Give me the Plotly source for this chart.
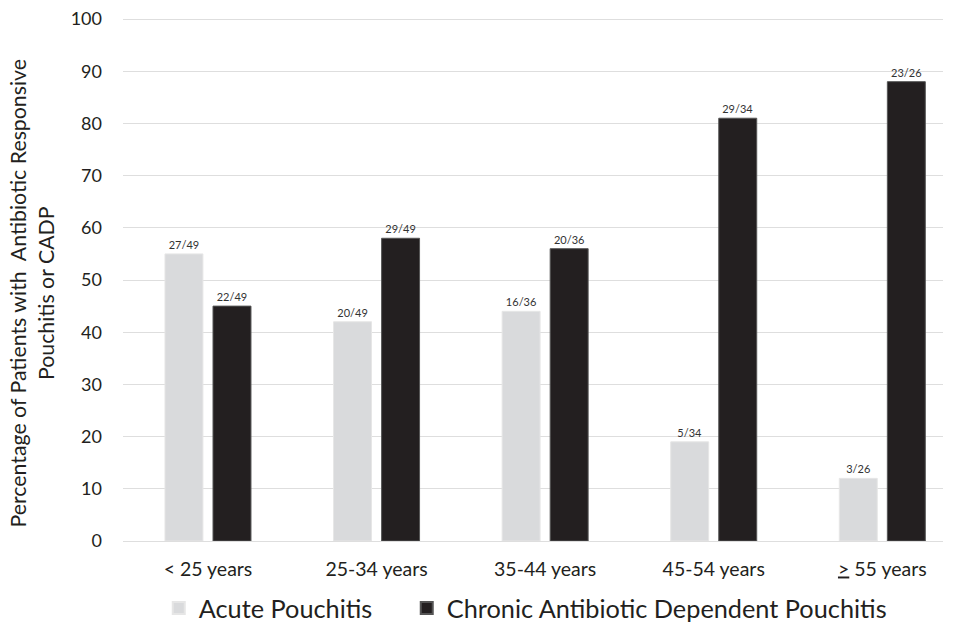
import plotly.graph_objects as go

categories = ["< 25 years", "25-34 years", "35-44 years", "45-54 years", "<u>></u> 55 years"]
acute_vals = [55, 42, 44, 19, 12]
chronic_vals = [45, 58, 56, 81, 88]
acute_labels = ["27/49", "20/49", "16/36", "5/34", "3/26"]
chronic_labels = ["22/49", "29/49", "20/36", "29/34", "23/26"]

font_family = "Lato, 'Open Sans', sans-serif"

fig = go.Figure()
fig.add_trace(go.Bar(
    x=categories, y=acute_vals, name="Acute Pouchitis",
    marker=dict(color="#d9dadc", line=dict(color="#e6e6e6", width=1)),
    text=acute_labels, textposition="outside", cliponaxis=False,
    textfont=dict(size=11, color="#333333", family=font_family),
    legendwidth=203,
))
fig.add_trace(go.Bar(
    x=categories, y=chronic_vals, name="Chronic Antibiotic Dependent Pouchitis",
    marker=dict(color="#231f20", line=dict(color="#555555", width=1)),
    text=chronic_labels, textposition="outside", cliponaxis=False,
    textfont=dict(size=11, color="#333333", family=font_family),
))

fig.update_layout(
    width=956, height=624,
    margin=dict(l=123, r=13, t=18, b=83, autoexpand=False),
    paper_bgcolor="white", plot_bgcolor="white",
    barmode="group", bargap=0.43, bargroupgap=0.21,
    font=dict(family=font_family, color="#231f20"),
    showlegend=True,
    legend=dict(orientation="h", x=0.0436, xanchor="left", y=-0.128, yanchor="middle",
                font=dict(size=25.3, color="#231f20"), itemsizing="constant",
                traceorder="normal", itemwidth=30),
    xaxis=dict(range=[-0.504, 4.36], showgrid=False, showline=False, ticks="",
               tickfont=dict(size=19.5, color="#231f20"), ticklabelstandoff=14),
    yaxis=dict(range=[0, 100.2], dtick=10, showgrid=True, gridcolor="#dedede", gridwidth=1,
               zeroline=True, zerolinecolor="#dedede", zerolinewidth=1, showline=False,
               tickfont=dict(size=18, color="#231f20"), ticks="", ticklabelstandoff=20,
               ticklabeloverflow="allow"),
    annotations=[dict(
        text="Percentage of Patients with  Antibiotic Responsive<br>Pouchitis or CADP",
        xref="paper", yref="paper", x=-0.1105, y=0.474, xanchor="center", yanchor="middle",
        textangle=-90, showarrow=False, font=dict(size=21.3, color="#231f20"),
    )],
)

fig.write_html("out.html", config={"displayModeBar": False},
               post_script="document.body.style.margin='0';")
